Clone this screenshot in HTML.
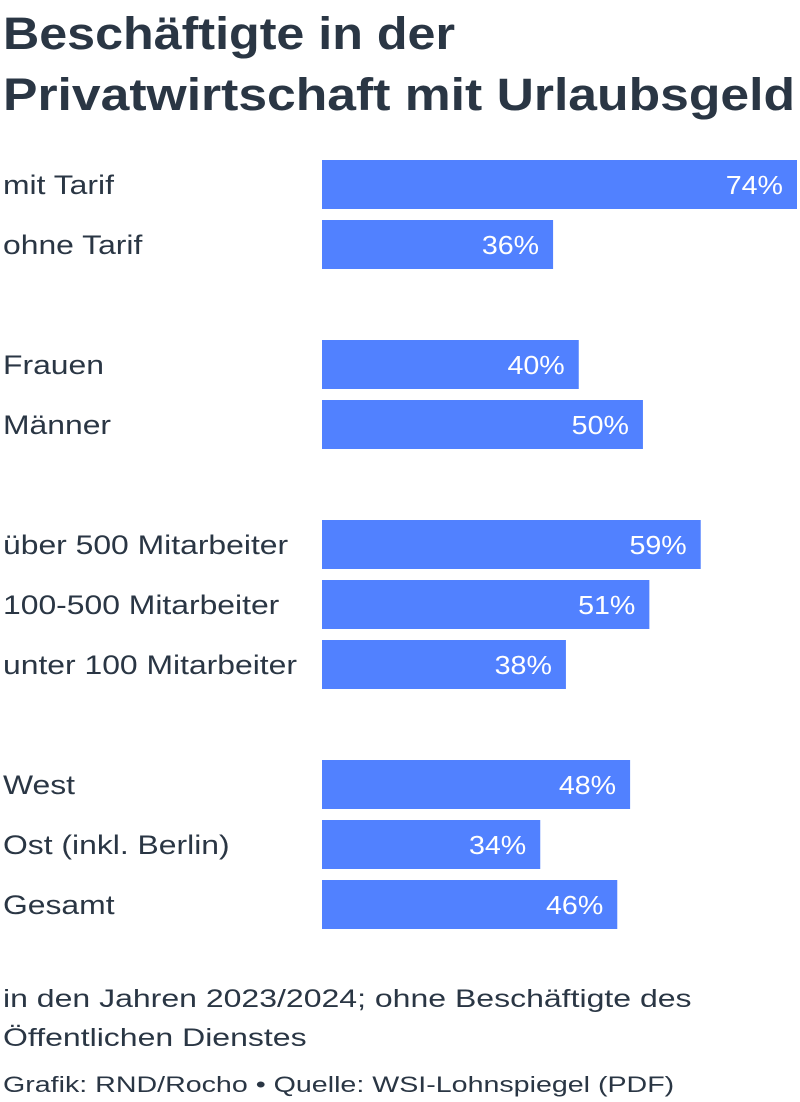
<!DOCTYPE html>
<html><head><meta charset="utf-8"><style>
html,body{margin:0;padding:0;background:#fff;}
svg{display:block;font-family:"Liberation Sans",sans-serif;}
</style></head><body>
<svg id="chart" width="800" height="1102" viewBox="0 0 800 1102">
<text x="3" y="49" font-size="45" font-weight="bold" fill="#2a3644" textLength="452" lengthAdjust="spacingAndGlyphs">Beschäftigte in der</text>
<text x="3" y="110" font-size="45" font-weight="bold" fill="#2a3644" textLength="792" lengthAdjust="spacingAndGlyphs">Privatwirtschaft mit Urlaubsgeld</text>
<g id="bars"></g>
<text id="fn1" x="3" y="1007" font-size="25" fill="#2a3644">in den Jahren 2023/2024; ohne Beschäftigte des</text>
<text id="fn2" x="3" y="1046" font-size="25" fill="#2a3644">Öffentlichen Dienstes</text>
<text id="cr" x="3" y="1092" font-size="22" fill="#2a3644">Grafik: RND/Rocho • Quelle: WSI-Lohnspiegel (PDF)</text>
</svg>
<script>
const categories = ["mit Tarif","ohne Tarif","Frauen","Männer","über 500 Mitarbeiter","100-500 Mitarbeiter","unter 100 Mitarbeiter","West","Ost (inkl. Berlin)","Gesamt"];
const values = [74,36,40,50,59,51,38,48,34,46];
const groups = [0,0,1,1,2,2,2,3,3,3];
const NS="http://www.w3.org/2000/svg";
const g=document.getElementById('bars');
const x0=322, scale=(797-322)/74;
function xScale(v){return x0+v*scale;}
function yPos(i){return 160+i*60+groups[i]*60;}
function stretch(el,r){const w=el.getComputedTextLength();el.setAttribute('textLength',w*r);el.setAttribute('lengthAdjust','spacingAndGlyphs');}
categories.forEach((c,i)=>{
  const y=yPos(i);
  const lab=document.createElementNS(NS,'text');
  
  
  lab.setAttribute('x',3);lab.setAttribute('y',y+34);
  lab.setAttribute('font-size','27');lab.setAttribute('fill','#2a3644');
  lab.textContent=c;g.appendChild(lab);
  stretch(lab,1.18);
  const r=document.createElementNS(NS,'rect');
  
  
  r.setAttribute('x',x0);r.setAttribute('y',y);
  r.setAttribute('width',xScale(values[i])-x0);r.setAttribute('height',49);
  r.setAttribute('fill','#5181ff');g.appendChild(r);
  const t=document.createElementNS(NS,'text');
  
  
  t.setAttribute('x',xScale(values[i])-14);t.setAttribute('y',y+34);
  t.setAttribute('text-anchor','end');t.setAttribute('font-size','26');t.setAttribute('fill','#fff');
  t.textContent=values[i]+'%';g.appendChild(t);
  stretch(t,1.1);
});
stretch(document.getElementById('fn1'),1.28);
stretch(document.getElementById('fn2'),1.28);
stretch(document.getElementById('cr'),1.3);
</script>
</body></html>
